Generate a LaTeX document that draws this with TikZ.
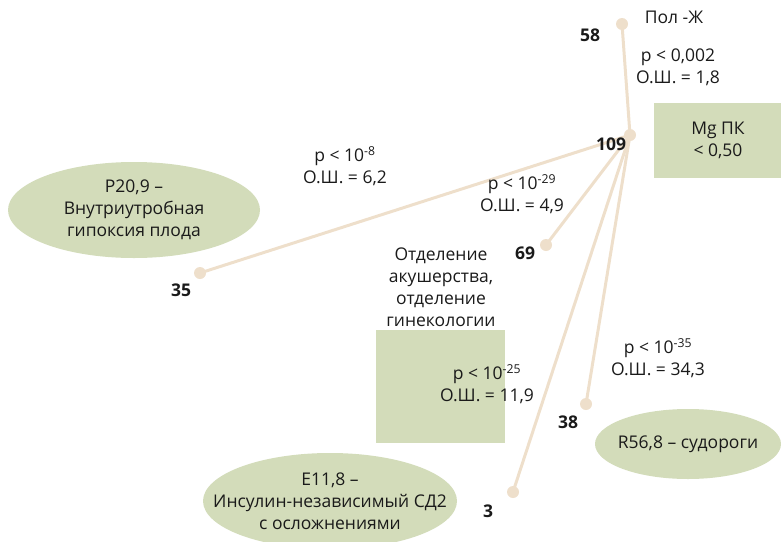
\documentclass[tikz,border=0pt]{standalone}
\usepackage{fontspec}
\setmainfont{Open Sans}
\usepackage{xcolor}
\definecolor{beige}{HTML}{EEDFCB}
\definecolor{sage}{HTML}{D3DCBA}
\definecolor{ink}{HTML}{1A1A1A}
\newcommand{\basefont}{\fontsize{17.5}{22}\selectfont}
\tikzset{
  dot/.style={circle, fill=beige, inner sep=0pt, minimum size=12pt},
  link/.style={draw=beige, line width=3pt},
  count/.style={font=\basefont\bfseries, text=ink},
  stat/.style={align=center, text=ink, inner sep=0pt},
  oval/.style={ellipse, fill=sage, inner sep=0pt},
}
\usetikzlibrary{shapes.geometric}

\begin{document}
\begin{tikzpicture}[x=1pt, y=-1pt, font=\basefont]
  \useasboundingbox (0,0) rectangle (781,541);

  % Boxes and ovals in the back
  \fill[sage] (654,103) rectangle (781,178);
  \fill[sage] (376,330) rectangle (505,443);
  \node[oval, minimum width=252pt, minimum height=96pt] (hypoxia) at (134,210) {};
  \node[oval, minimum width=186pt, minimum height=70pt] (cramps) at (688,444) {};
  \node[oval, minimum width=254pt, minimum height=96pt] (diabetes) at (330,501) {};
  \node[stat] (hypoxiatext) at (hypoxia) {P20,9 --\\Внутриутробная\\гипоксия плода};
  \node[stat] (crampstext) at (cramps) {R56,8 -- судороги};
  \node[stat] (diabetestext) at (diabetes) {E11,8 --\\Инсулин-независимый СД2\\с осложнениями};

  % Tree points
  \coordinate (hub) at (630,135);
  \coordinate (p58) at (622,24);
  \coordinate (p35) at (200,273);
  \coordinate (p69) at (546,245);
  \coordinate (p3) at (513,492);
  \coordinate (p38) at (586,404);

  \foreach \p in {p58,p35,p69,p3,p38}
    \draw[link] (hub) -- (\p);
  \foreach \p in {hub,p58,p35,p69,p3,p38}
    \node[dot] at (\p) {};

  % Counts
  \node[count] (n58) at (590,35) {58};
  \node[count] (n109) at (611,144) {109};
  \node[count] (n35) at (181,290) {35};
  \node[count] (n69) at (525,253) {69};
  \node[count] (n3) at (488,511) {3};
  \node[count] (n38) at (568,422) {38};

  % Statistics
  \node[stat] (sex) at (674,17) {Пол -Ж};
  \node[stat] (s58) at (678,67) {p < 0,002\\О.Ш. = 1,8};
  \node[stat] (mg) at (718,140) {Mg ПК\\< 0,50};
  \node[stat] (s35) at (345,166) {p < 10\textsuperscript{-8}\\О.Ш. = 6,2};
  \node[stat] (s69) at (522,194) {p < 10\textsuperscript{-29}\\О.Ш. = 4,9};
  \node[stat] (dept) at (441,287) {Отделение\\акушерства,\\отделение\\гинекологии};
  \node[stat] (s3) at (487,384) {p < 10\textsuperscript{-25}\\О.Ш. = 11,9};
  \node[stat] (s38) at (658,358) {p < 10\textsuperscript{-35}\\О.Ш. = 34,3};
\end{tikzpicture}
\end{document}
